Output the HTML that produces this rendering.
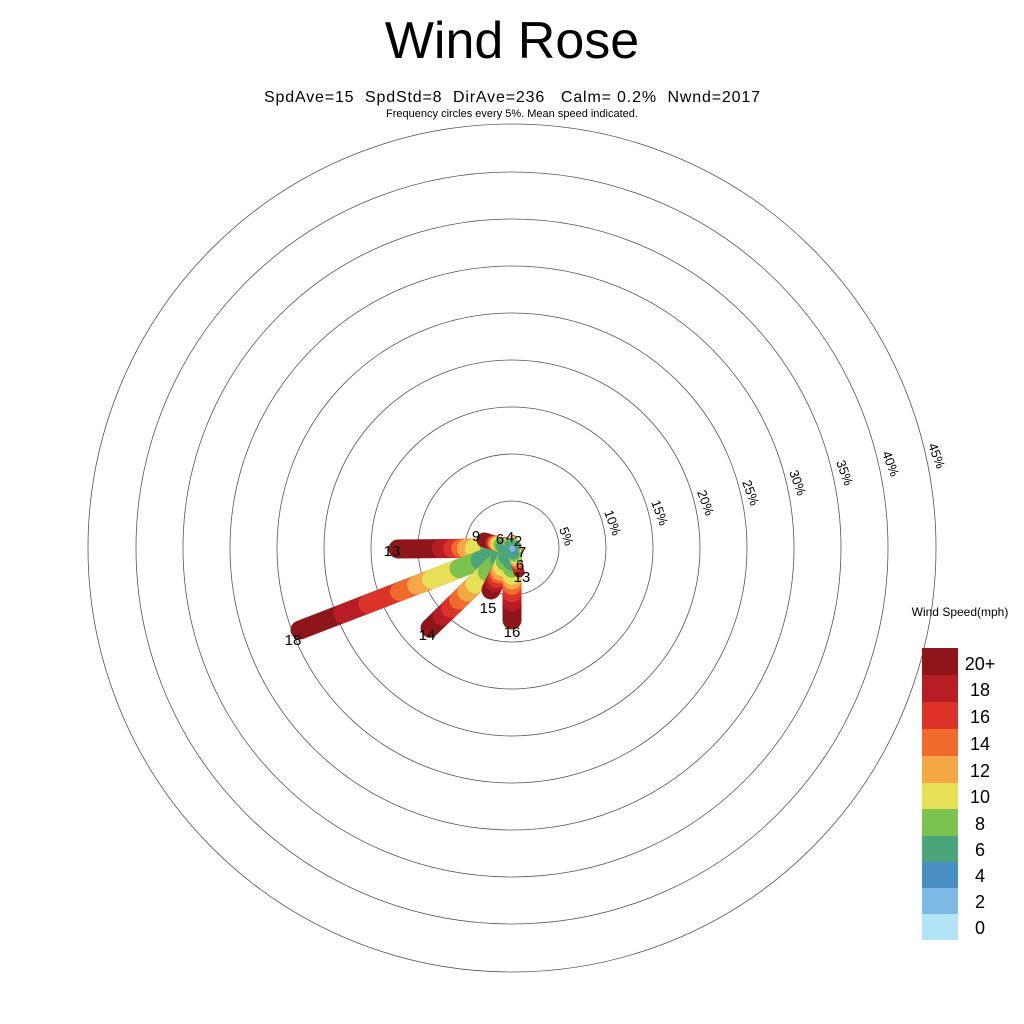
<!DOCTYPE html>
<html><head><meta charset="utf-8"><style>body{margin:0;background:#fff}svg{display:block;font-family:"Liberation Sans",sans-serif}</style></head><body>
<svg width="1024" height="1024" viewBox="0 0 1024 1024">
<rect width="1024" height="1024" fill="#fff"/>
<text x="512" y="58" font-size="52" text-anchor="middle">Wind Rose</text>
<text x="264" y="102" font-size="16" textLength="496" lengthAdjust="spacing" style="white-space:pre">SpdAve=15  SpdStd=8  DirAve=236   Calm= 0.2%  Nwnd=2017</text>
<text x="512" y="117" font-size="11" text-anchor="middle">Frequency circles every 5%. Mean speed indicated.</text>
<g fill="none" stroke="#555" stroke-width="0.8">
<circle cx="512" cy="548" r="47"/><circle cx="512" cy="548" r="94"/><circle cx="512" cy="548" r="141"/><circle cx="512" cy="548" r="188"/><circle cx="512" cy="548" r="235"/><circle cx="512" cy="548" r="282"/><circle cx="512" cy="548" r="329"/><circle cx="512" cy="548" r="376"/><circle cx="512" cy="548" r="424"/>
</g>
<g font-size="13">
<text transform="translate(559,529) rotate(70)">5%</text>
<text transform="translate(604,512) rotate(70)">10%</text>
<text transform="translate(651,502) rotate(70)">15%</text>
<text transform="translate(697,492) rotate(70)">20%</text>
<text transform="translate(742,482) rotate(70)">25%</text>
<text transform="translate(789,472) rotate(70)">30%</text>
<text transform="translate(836,462) rotate(70)">35%</text>
<text transform="translate(882,453) rotate(70)">40%</text>
<text transform="translate(928,445) rotate(70)">45%</text>
</g>
<g id="spokes" stroke-linecap="round"></g>
<g font-size="15" text-anchor="middle">
<text x="392" y="556">13</text><text x="293" y="645">18</text><text x="427" y="640">14</text>
<text x="488" y="613">15</text><text x="512" y="637">16</text><text x="476" y="541">9</text>
<text x="500" y="544">6</text><text x="510" y="542">4</text><text x="518" y="546">2</text>
<text x="522" y="557">7</text><text x="520" y="570">6</text><text x="522" y="582">13</text>
</g>
<g>
<rect x="922" y="648" width="36" height="27" fill="#8e161a"/>
<rect x="922" y="675" width="36" height="27" fill="#b81c24"/>
<rect x="922" y="702" width="36" height="27" fill="#dc3328"/>
<rect x="922" y="729" width="36" height="27" fill="#f06a2c"/>
<rect x="922" y="756" width="36" height="27" fill="#f6a847"/>
<rect x="922" y="783" width="36" height="26" fill="#e5e055"/>
<rect x="922" y="809" width="36" height="27" fill="#7bc24f"/>
<rect x="922" y="836" width="36" height="26" fill="#4aa67a"/>
<rect x="922" y="862" width="36" height="26" fill="#4a8ec6"/>
<rect x="922" y="888" width="36" height="26" fill="#7cb9e4"/>
<rect x="922" y="914" width="36" height="26" fill="#b3e3f7"/>
</g>
<g font-size="18" text-anchor="middle">
<text x="980" y="670">20+</text><text x="980" y="696">18</text><text x="980" y="723">16</text><text x="980" y="750">14</text><text x="980" y="777">12</text><text x="980" y="803">10</text><text x="980" y="830">8</text><text x="980" y="856">6</text><text x="980" y="882">4</text><text x="980" y="908">2</text><text x="980" y="934">0</text>
</g>
<text x="960" y="616" font-size="12" text-anchor="middle">Wind Speed(mph)</text>
<script>
(function(){
var cols=["#b3e3f7","#7cb9e4","#4a8ec6","#4aa67a","#7bc24f","#e5e055","#f6a847","#f06a2c","#dc3328","#b81c24","#8e161a"];
var cx=512,cy=548;
var sp=[
[398,549,[0.02,0.05,0.12,0.2,0.33,0.4,0.45,0.52,0.62],19],
[300,630,[0.02,0.05,0.15,0.25,0.38,0.45,0.53,0.68,0.8],19],
[430,628,[0.02,0.06,0.15,0.3,0.45,0.55,0.65,0.75,0.85],19],
[491,590,[0.03,0.1,0.2,0.32,0.45,0.55,0.62,0.72,0.82],19],
[512,620,[0.03,0.1,0.18,0.28,0.38,0.45,0.52,0.62,0.75],19],
[484,540,[0.05,0.15,0.3,0.4,0.5,0.55,0.6,0.65,0.7],15],
[505,541,[0.1,0.3,0.5,0.7,0.8,0.9,0.95,0.97,0.98],8],
[513,538,[0.1,0.3,0.5,0.7,0.8,0.9,0.95,0.97,0.98],6],
[520,550,[0.1,0.3,0.5,0.7,0.8,0.9,0.95,0.97,0.98],6],
[518,562,[0.1,0.2,0.3,0.4,0.5,0.6,0.7,0.8,0.9],9],
[519,572,[0.05,0.15,0.25,0.35,0.45,0.55,0.65,0.75,0.85],11]
];
var g=document.getElementById("spokes"),ns="http://www.w3.org/2000/svg";
sp.forEach(function(s){
 var st=s[2].concat([1]);
 for(var i=10;i>=1;i--){
  var f=st[i-1];var l=document.createElementNS(ns,"line");
  l.setAttribute("x1",cx);l.setAttribute("y1",cy);
  l.setAttribute("x2",cx+(s[0]-cx)*f);l.setAttribute("y2",cy+(s[1]-cy)*f);
  l.setAttribute("stroke",cols[i]);l.setAttribute("stroke-width",s[3]*(i<3?0.5:1));
  g.appendChild(l);
 }
});
})();
</script>
</svg>
</body></html>
